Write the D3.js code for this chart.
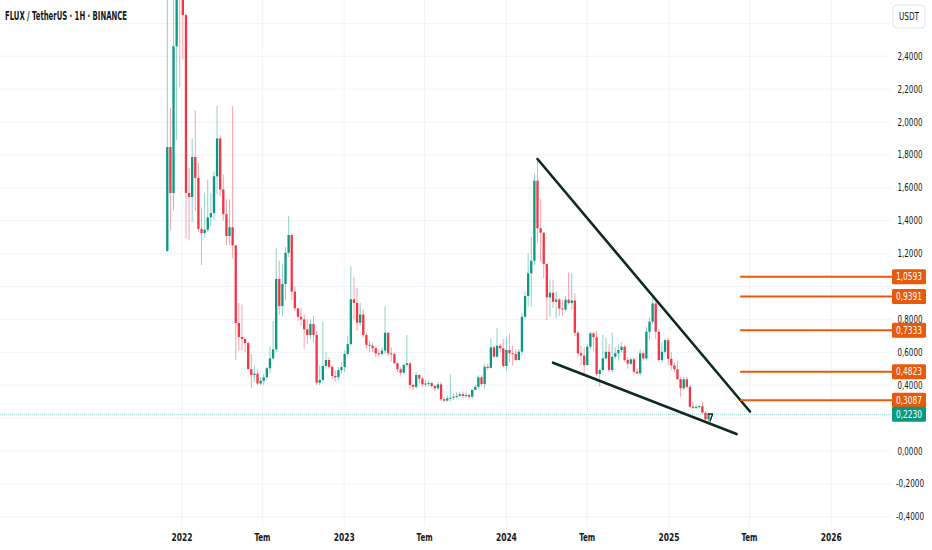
<!DOCTYPE html>
<html><head><meta charset="utf-8">
<script src="https://cdn.jsdelivr.net/npm/d3@7"></script>
<style>
html,body{margin:0;padding:0;background:#fff;overflow:hidden}
svg{display:block}
text{font-family:"Liberation Sans Narrow","DejaVu Sans Condensed",Roboto,sans-serif;fill:#131722}
</style></head>
<body>
<script>
// ---- data ----
const title = "FLUX / TetherUS · 1H · BINANCE";
const firstWeek = "2021-11-29";
const firstOpen = 1.216;
const closes = [
1.848,1.568,2.46,3.05,2.85,2.65,1.568,1.544,1.787,1.66,
1.35,1.325,1.345,1.42,1.447,1.67,1.90,1.59,1.44,1.307,
1.36,1.25,0.778,0.693,0.681,0.656,0.498,0.462,0.47,0.41,
0.427,0.448,0.503,0.563,0.618,1.046,0.881,1.015,1.205,1.313,
0.969,0.867,0.816,0.80,0.74,0.705,0.772,0.705,0.415,0.432,
0.517,0.553,0.512,0.456,0.448,0.492,0.51,0.59,0.65,0.922,
0.90,0.78,0.83,0.705,0.645,0.64,0.625,0.594,0.59,0.61,
0.719,0.594,0.59,0.533,0.497,0.476,0.523,0.533,0.401,0.39,
0.462,0.44,0.405,0.41,0.413,0.395,0.381,0.405,0.314,0.306,
0.32,0.324,0.33,0.335,0.345,0.335,0.34,0.33,0.371,0.39,
0.448,0.407,0.512,0.505,0.63,0.573,0.64,0.624,0.517,0.614,
0.594,0.59,0.553,0.604,0.816,0.942,1.08,1.157,1.643,1.354,
1.327,1.137,0.934,0.962,0.907,0.921,0.866,0.86,0.92,0.90,
0.915,0.719,0.594,0.58,0.523,0.634,0.715,0.691,0.468,0.492,
0.563,0.603,0.492,0.573,0.594,0.614,0.634,0.553,0.531,0.557,
0.482,0.472,0.594,0.563,0.725,0.786,0.897,0.725,0.553,0.603,
0.674,0.56,0.52,0.496,0.436,0.381,0.436,0.39,0.269,0.262,
0.268,0.272,0.233,0.192,0.223];
const highs = [
3.0,2.085,2.9,3.4,3.2,2.9,2.66,1.72,1.90,2.07,
1.75,1.48,1.57,1.65,1.57,1.70,2.097,1.92,1.68,1.53,
1.53,2.097,1.25,0.90,0.89,0.69,0.665,0.59,0.52,0.50,
0.45,0.47,0.51,0.638,0.79,1.232,1.157,1.14,1.24,1.428,
1.32,1.00,0.87,0.87,0.83,0.80,0.80,0.82,0.73,0.52,
0.786,0.60,0.57,0.52,0.49,0.51,0.54,0.61,0.70,1.12,
1.06,0.99,0.90,0.86,0.72,0.67,0.66,0.64,0.62,0.63,
0.88,0.72,0.63,0.60,0.54,0.51,0.53,0.705,0.54,0.41,
0.48,0.47,0.45,0.43,0.43,0.42,0.40,0.42,0.42,0.33,
0.34,0.466,0.35,0.36,0.36,0.36,0.36,0.35,0.38,0.40,
0.46,0.46,0.53,0.53,0.685,0.64,0.746,0.65,0.68,0.695,
0.715,0.64,0.62,0.62,0.84,0.97,1.20,1.303,1.688,1.785,
1.53,1.33,1.14,1.044,1.04,0.97,0.93,0.92,0.94,1.084,
1.08,0.96,0.73,0.64,0.63,0.65,0.725,0.725,0.73,0.50,
0.705,0.69,0.65,0.72,0.63,0.65,0.66,0.645,0.57,0.57,
0.57,0.50,0.62,0.61,0.755,0.81,0.928,0.92,0.74,0.66,
0.685,0.69,0.60,0.54,0.55,0.45,0.45,0.45,0.40,0.30,
0.28,0.28,0.30,0.24,0.235];
const lows = [
1.21,1.343,1.465,1.89,2.21,2.38,1.29,1.28,1.39,1.46,
1.33,1.13,1.30,1.33,1.37,1.40,1.56,1.55,1.40,1.25,
1.25,1.17,0.553,0.61,0.61,0.60,0.49,0.383,0.42,0.40,
0.40,0.40,0.43,0.47,0.56,0.60,0.828,0.82,0.92,1.18,
0.918,0.85,0.79,0.76,0.62,0.65,0.68,0.66,0.40,0.40,
0.42,0.50,0.50,0.44,0.42,0.43,0.47,0.48,0.58,0.64,
0.80,0.73,0.76,0.69,0.62,0.60,0.60,0.57,0.57,0.58,
0.59,0.58,0.545,0.53,0.48,0.46,0.47,0.51,0.38,0.37,
0.38,0.41,0.39,0.39,0.39,0.38,0.365,0.37,0.305,0.30,
0.30,0.30,0.31,0.32,0.33,0.325,0.325,0.32,0.32,0.37,
0.38,0.395,0.38,0.49,0.50,0.57,0.57,0.60,0.51,0.488,
0.54,0.52,0.55,0.55,0.58,0.81,0.877,0.877,1.13,1.263,
1.15,1.05,0.796,0.816,0.87,0.806,0.82,0.82,0.85,0.89,
0.86,0.70,0.57,0.52,0.472,0.52,0.62,0.61,0.455,0.391,
0.48,0.55,0.48,0.48,0.56,0.55,0.60,0.54,0.50,0.52,
0.47,0.465,0.46,0.55,0.55,0.68,0.77,0.68,0.54,0.54,
0.59,0.52,0.49,0.48,0.43,0.33,0.37,0.38,0.26,0.255,
0.255,0.26,0.228,0.185,0.175];
const timeTickDates = ["2022-01-01","2022-07-01","2023-01-01","2023-07-01","2024-01-01","2024-07-01","2025-01-01","2025-07-01","2026-01-01"];
const timeTickLabels = ["2022","Tem","2023","Tem","2024","Tem","2025","Tem","2026"];
const gridPrices = [2.6,2.4,2.2,2.0,1.8,1.6,1.4,1.2,1.0,0.8,0.6,0.4,0.2,0.0,-0.2,-0.4];
const priceLabels = [2.4,2.2,2.0,1.8,1.6,1.4,1.2,0.8,0.6,0.4,0.0,-0.2,-0.4];
const levelPrices = [1.0593,0.9391,0.7333,0.4823,0.3087];
const levelStart = "2025-06-10";
const lastPrice = 0.2230;
const upperTrend = [["2024-03-11",1.775],["2025-07-02",0.240]];
const lowerTrend = [["2024-04-15",0.537],["2025-06-02",0.103]];
const markPath = [["2025-03-29",0.225],["2025-04-09",0.225],["2025-04-03",0.179]];
const currency = "USDT";

// ---- layout ----
const W = 932, H = 550;
const plotRight = 891, plotBottom = 526;
const GREEN = "#089981", RED = "#f23645", ORANGE = "#e8590c", DARK = "#0f2a23";
const fmt = v => (v<0?"-":"") + Math.abs(v).toFixed(4).replace(".", ",");
const parse = s => new Date(s + "T00:00:00Z");

const start = parse(firstWeek);
const candles = closes.map((c,i)=>({
  date: new Date(start.getTime() + i*7*86400000),
  o: i===0 ? firstOpen : closes[i-1], c, h: highs[i], l: lows[i]
}));

const x = d3.scaleUtc()
  .domain([candles[0].date, candles[candles.length-1].date])
  .range([167.3, 708.6]);
const y = d3.scaleLinear().domain([0,1]).range([451, 286.5]);

const svg = d3.select("body").append("svg").attr("width",W).attr("height",H);

// grid
const grid = svg.append("g");
grid.selectAll("line.h").data(gridPrices).join("line")
  .attr("x1",0).attr("x2",plotRight).attr("y1",d=>y(d)).attr("y2",d=>y(d))
  .attr("stroke","#f0f3fa").attr("stroke-width",1);
grid.selectAll("line.v").data(timeTickDates).join("line")
  .attr("x1",d=>x(parse(d))).attr("x2",d=>x(parse(d))).attr("y1",0).attr("y2",plotBottom)
  .attr("stroke","#f0f3fa").attr("stroke-width",1);

// last price dotted line
svg.append("line").attr("x1",0).attr("x2",plotRight)
  .attr("y1",y(lastPrice)).attr("y2",y(lastPrice))
  .attr("stroke",GREEN).attr("stroke-opacity",0.4).attr("stroke-width",1)
  .attr("stroke-dasharray","1 1");

// candles
const bw = 2.3;
const cg = svg.append("g");
cg.selectAll("line.wick").data(candles).join("line")
  .attr("x1",d=>x(d.date)).attr("x2",d=>x(d.date))
  .attr("y1",d=>y(Math.max(d.h,d.o,d.c))).attr("y2",d=>y(Math.min(d.l,d.o,d.c)))
  .attr("stroke",d=>d.c>=d.o?GREEN:RED).attr("stroke-opacity",0.45).attr("stroke-width",1);
cg.selectAll("rect.body").data(candles).join("rect")
  .attr("x",d=>x(d.date)-bw/2).attr("width",bw)
  .attr("y",d=>y(Math.max(d.o,d.c)))
  .attr("height",d=>Math.max(1,Math.abs(y(d.o)-y(d.c))))
  .attr("fill",d=>d.c>=d.o?GREEN:RED);

// trend lines
const lineGen = d3.line().x(d=>x(parse(d[0]))).y(d=>y(d[1]));
[upperTrend, lowerTrend].forEach(t=>{
  svg.append("path").attr("d",lineGen(t)).attr("fill","none")
    .attr("stroke",DARK).attr("stroke-width",2.6).attr("stroke-linecap","round");
});
svg.append("path").attr("d",lineGen(markPath)).attr("fill","none")
  .attr("stroke",DARK).attr("stroke-width",1.4).attr("stroke-linejoin","round");

// horizontal levels
svg.selectAll("line.level").data(levelPrices).join("line")
  .attr("x1",x(parse(levelStart))).attr("x2",plotRight+1)
  .attr("y1",d=>y(d)).attr("y2",d=>y(d))
  .attr("stroke",ORANGE).attr("stroke-width",2);

// price axis labels
const ax = svg.append("g");
ax.selectAll("text").data(priceLabels).join("text")
  .attr("x",910).attr("y",d=>y(d)).attr("dy","0.35em")
  .attr("text-anchor","middle").attr("font-size",10)
  .attr("textLength",d=>d<0?28:25).attr("lengthAdjust","spacingAndGlyphs").text(d=>fmt(d));

// USDT box
svg.append("rect").attr("x",893).attr("y",5).attr("width",32).attr("height",23).attr("rx",4)
  .attr("fill","#fff").attr("stroke","#e0e3eb");
svg.append("text").attr("x",909).attr("y",16.5).attr("dy","0.35em").attr("text-anchor","middle")
  .attr("font-size",10).attr("textLength",20).attr("lengthAdjust","spacingAndGlyphs").text(currency);

// level labels
const lb = svg.append("g");
levelPrices.forEach(p=>{
  lb.append("rect").attr("x",892).attr("y",y(p)-7.5).attr("width",34).attr("height",15).attr("rx",1.5).attr("fill",ORANGE);
  lb.append("text").attr("x",909).attr("y",y(p)).attr("dy","0.35em").attr("text-anchor","middle")
    .attr("font-size",10).attr("textLength",26).attr("lengthAdjust","spacingAndGlyphs")
    .style("fill","#fff").text(fmt(p));
});
lb.append("rect").attr("x",892).attr("y",y(lastPrice)-7.5).attr("width",34).attr("height",15).attr("rx",1.5).attr("fill",GREEN);
lb.append("text").attr("x",909).attr("y",y(lastPrice)).attr("dy","0.35em").attr("text-anchor","middle")
  .attr("font-size",10).attr("textLength",26).attr("lengthAdjust","spacingAndGlyphs")
  .style("fill","#fff").text(fmt(lastPrice));

// time axis labels
svg.selectAll("text.t").data(timeTickDates).join("text")
  .attr("x",d=>x(parse(d))).attr("y",537).attr("dy","0.35em").attr("text-anchor","middle")
  .attr("font-size",10.5).attr("font-weight",600)
  .attr("textLength",(d,i)=>timeTickLabels[i].length>3?21:16).attr("lengthAdjust","spacingAndGlyphs")
  .text((d,i)=>timeTickLabels[i]);

// title
svg.append("text").attr("x",5).attr("y",16).attr("dy","0.35em")
  .attr("font-size",11.5).attr("font-weight",700)
  .attr("textLength",122).attr("lengthAdjust","spacingAndGlyphs").text(title);
</script>
</body></html>
